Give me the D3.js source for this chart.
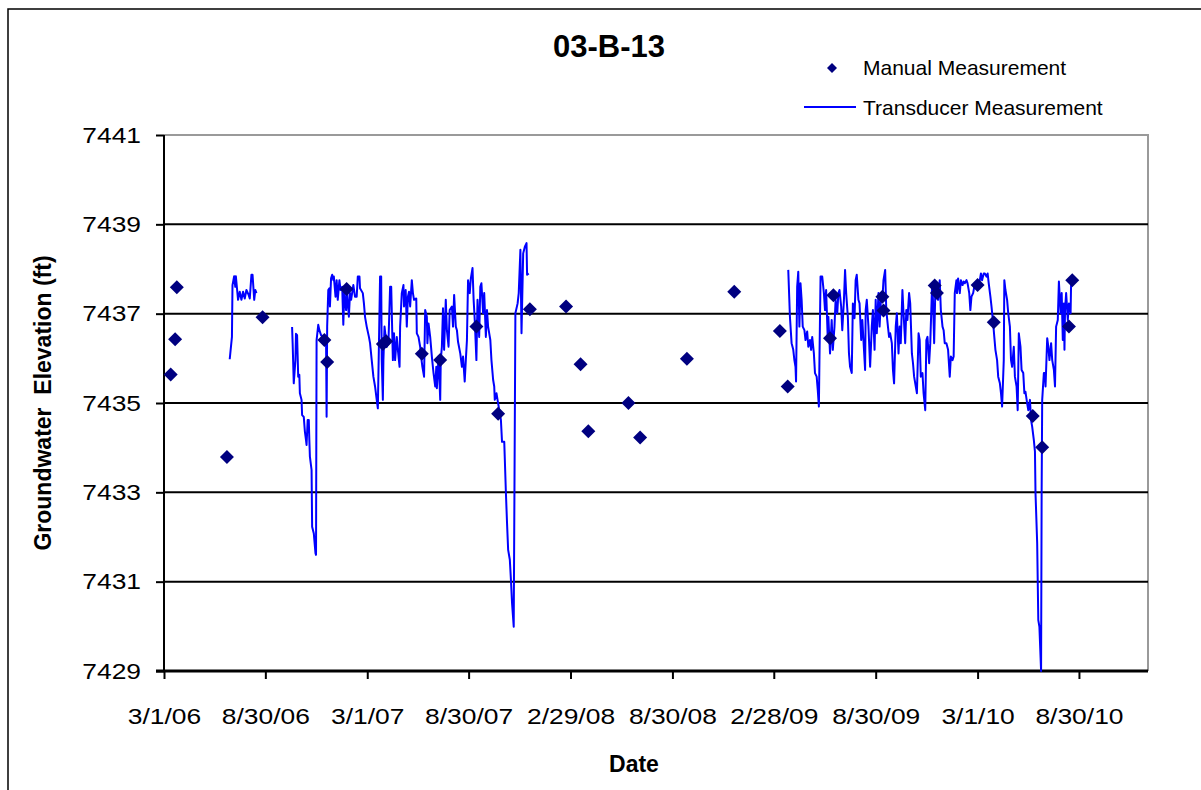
<!DOCTYPE html>
<meta charset="utf-8">
<style>
    body { margin: 0; background: #fff; }
    text { font-family: "Liberation Sans", Arial, sans-serif; fill: #000; }
    .axis .domain { display: none; }
</style>
<svg width="1201" height="790"></svg>
<script src="https://cdnjs.cloudflare.com/ajax/libs/d3/7.8.5/d3.min.js"></script>
<script>
    // manual measurements (diamonds)
    var manualDates = ["2006-03-13", "2006-03-21", "2006-03-24", "2006-06-22", "2006-08-25", "2006-12-14",
        "2006-12-19", "2007-01-23", "2007-03-29", "2007-04-04", "2007-06-07", "2007-07-10", "2007-09-13",
        "2007-10-22", "2007-12-18", "2008-02-21", "2008-03-18", "2008-04-01", "2008-06-12", "2008-07-03",
        "2008-09-25", "2008-12-19", "2009-03-11", "2009-03-25", "2009-06-09", "2009-06-15", "2009-09-11",
        "2009-09-13", "2009-12-14", "2009-12-18", "2010-03-01", "2010-03-30", "2010-06-08", "2010-06-25",
        "2010-08-12", "2010-08-18"];
    var manualValues = [7435.64, 7436.43, 7437.59, 7433.79, 7436.92, 7436.41,
        7435.92, 7437.55, 7436.32, 7436.38, 7436.10, 7435.96, 7436.71,
        7434.76, 7437.10, 7437.16, 7435.87, 7434.37, 7435.00, 7434.23,
        7435.99, 7437.49, 7436.61, 7435.37, 7436.45, 7437.41, 7437.38,
        7437.07, 7437.63, 7437.46, 7437.64, 7436.81, 7434.71, 7434.01,
        7436.71, 7437.75];

    // transducer record (null = no logger data)
    var transDates = [
        "2006-06-27", "2006-07-01", "2006-07-02", "2006-07-05", "2006-07-07", "2006-07-08", "2006-07-12",
        "2006-07-15", "2006-07-18", "2006-07-21", "2006-07-24", "2006-07-27", "2006-07-31", "2006-08-02",
        "2006-08-05", "2006-08-07", "2006-08-10", "2006-08-12", "2006-08-14", "2006-09-15",
        "2006-10-17", "2006-10-18", "2006-10-20", "2006-10-23", "2006-10-24", "2006-10-26", "2006-10-28",
        "2006-10-30", "2006-10-31", "2006-11-03", "2006-11-04", "2006-11-07", "2006-11-09", "2006-11-11",
        "2006-11-12", "2006-11-14", "2006-11-16", "2006-11-17", "2006-11-18", "2006-11-21", "2006-11-22",
        "2006-11-25", "2006-11-28", "2006-11-29", "2006-11-30", "2006-12-03", "2006-12-05", "2006-12-08",
        "2006-12-12", "2006-12-17", "2006-12-18", "2006-12-19", "2006-12-21", "2006-12-23", "2006-12-24",
        "2006-12-26", "2006-12-28", "2006-12-30", "2006-12-31", "2007-01-03", "2007-01-05", "2007-01-07",
        "2007-01-10", "2007-01-12", "2007-01-15", "2007-01-17", "2007-01-19", "2007-01-22", "2007-01-24",
        "2007-01-27", "2007-01-29", "2007-01-31", "2007-02-04", "2007-02-07", "2007-02-10", "2007-02-12",
        "2007-02-15", "2007-02-16", "2007-02-21", "2007-02-23", "2007-02-25", "2007-02-28", "2007-03-04",
        "2007-03-06", "2007-03-09", "2007-03-12", "2007-03-15", "2007-03-18", "2007-03-20", "2007-03-22",
        "2007-03-24", "2007-03-26", "2007-03-27", "2007-03-29", "2007-03-30", "2007-04-01", "2007-04-05",
        "2007-04-08", "2007-04-11", "2007-04-13", "2007-04-16", "2007-04-18", "2007-04-20", "2007-04-23",
        "2007-04-25", "2007-04-28", "2007-04-29", "2007-05-02", "2007-05-05", "2007-05-06", "2007-05-09",
        "2007-05-11", "2007-05-13", "2007-05-15", "2007-05-17", "2007-05-20", "2007-05-22", "2007-05-24",
        "2007-05-28", "2007-05-29", "2007-06-01", "2007-06-04", "2007-06-05", "2007-06-08", "2007-06-11",
        "2007-06-13", "2007-06-16", "2007-06-17", "2007-06-19", "2007-06-22", "2007-06-25", "2007-06-28",
        "2007-07-01", "2007-07-03", "2007-07-04", "2007-07-07", "2007-07-10", "2007-07-11", "2007-07-13",
        "2007-07-15", "2007-07-17", "2007-07-20", "2007-07-22", "2007-07-25", "2007-07-27", "2007-07-31",
        "2007-08-02", "2007-08-04", "2007-08-07", "2007-08-09", "2007-08-11", "2007-08-15", "2007-08-18",
        "2007-08-20", "2007-08-23", "2007-08-25", "2007-08-27", "2007-08-29", "2007-09-01", "2007-09-03",
        "2007-09-06", "2007-09-08", "2007-09-10", "2007-09-13", "2007-09-15", "2007-09-18", "2007-09-20",
        "2007-09-22", "2007-09-25", "2007-09-27", "2007-09-30", "2007-10-02", "2007-10-04", "2007-10-08",
        "2007-10-10", "2007-10-13", "2007-10-15", "2007-10-16", "2007-10-19", "2007-10-22", "2007-10-27",
        "2007-10-29", "2007-11-02", "2007-11-05", "2007-11-07", "2007-11-09", "2007-11-12", "2007-11-14",
        "2007-11-16", "2007-11-19", "2007-11-22", "2007-11-26", "2007-11-28", "2007-12-01", "2007-12-03",
        "2007-12-06", "2007-12-09", "2007-12-12", "2007-12-13", "2007-12-16", "2008-06-01",
        "2009-03-26", "2009-03-29", "2009-04-01", "2009-04-04", "2009-04-06", "2009-04-08", "2009-04-09",
        "2009-04-11", "2009-04-13", "2009-04-15", "2009-04-17", "2009-04-19", "2009-04-21", "2009-04-24",
        "2009-04-26", "2009-04-29", "2009-05-01", "2009-05-04", "2009-05-06", "2009-05-08", "2009-05-11",
        "2009-05-13", "2009-05-16", "2009-05-18", "2009-05-20", "2009-05-21", "2009-05-23", "2009-05-26",
        "2009-05-29", "2009-05-31", "2009-06-02", "2009-06-05", "2009-06-06", "2009-06-09", "2009-06-12",
        "2009-06-14", "2009-06-17", "2009-06-19", "2009-06-22", "2009-06-24", "2009-06-26", "2009-06-29",
        "2009-07-01", "2009-07-04", "2009-07-06", "2009-07-08", "2009-07-11", "2009-07-13", "2009-07-15",
        "2009-07-18", "2009-07-20", "2009-07-23", "2009-07-25", "2009-07-27", "2009-07-30", "2009-08-01",
        "2009-08-04", "2009-08-06", "2009-08-08", "2009-08-11", "2009-08-12", "2009-08-14", "2009-08-17",
        "2009-08-20", "2009-08-23", "2009-08-25", "2009-08-28", "2009-08-30", "2009-09-01", "2009-09-04",
        "2009-09-06", "2009-09-09", "2009-09-11", "2009-09-13", "2009-09-16", "2009-09-18", "2009-09-21",
        "2009-09-23", "2009-09-25", "2009-09-28", "2009-09-30", "2009-10-02", "2009-10-05", "2009-10-07",
        "2009-10-10", "2009-10-12", "2009-10-14", "2009-10-17", "2009-10-19", "2009-10-22", "2009-10-24",
        "2009-10-26", "2009-10-29", "2009-10-31", "2009-11-03", "2009-11-05", "2009-11-07", "2009-11-10",
        "2009-11-12", "2009-11-15", "2009-11-17", "2009-11-19", "2009-11-22", "2009-11-24", "2009-11-27",
        "2009-11-29", "2009-12-01", "2009-12-04", "2009-12-06", "2009-12-09", "2009-12-10", "2009-12-13",
        "2009-12-15", "2009-12-18", "2009-12-20", "2009-12-23", "2009-12-25", "2009-12-28", "2009-12-30",
        "2010-01-01", "2010-01-04", "2010-01-07", "2010-01-10", "2010-01-12", "2010-01-15", "2010-01-17",
        "2010-01-19", "2010-01-22", "2010-01-23", "2010-01-25", "2010-01-28", "2010-01-30", "2010-02-02",
        "2010-02-04", "2010-02-06", "2010-02-09", "2010-02-11", "2010-02-14", "2010-02-16", "2010-02-18",
        "2010-02-21", "2010-02-23", "2010-02-27", "2010-03-02", "2010-03-05", "2010-03-07", "2010-03-09",
        "2010-03-12", "2010-03-14", "2010-03-17", "2010-03-19", "2010-03-21", "2010-03-24", "2010-03-26",
        "2010-03-29", "2010-03-31", "2010-04-02", "2010-04-05", "2010-04-07", "2010-04-10", "2010-04-12",
        "2010-04-14", "2010-04-17", "2010-04-18", "2010-04-20", "2010-04-23", "2010-04-25", "2010-04-28",
        "2010-04-30", "2010-05-02", "2010-05-05", "2010-05-07", "2010-05-10", "2010-05-12", "2010-05-14",
        "2010-05-17", "2010-05-19", "2010-05-22", "2010-05-24", "2010-05-26", "2010-05-29", "2010-05-31",
        "2010-06-03", "2010-06-05", "2010-06-07", "2010-06-10", "2010-06-12", "2010-06-13", "2010-06-16",
        "2010-06-18", "2010-06-20", "2010-06-23", "2010-06-24", "2010-06-25", "2010-06-28", "2010-06-30",
        "2010-07-01", "2010-07-04", "2010-07-06", "2010-07-08", "2010-07-11", "2010-07-13", "2010-07-16",
        "2010-07-18", "2010-07-20", "2010-07-23", "2010-07-25", "2010-07-28", "2010-07-30", "2010-08-01",
        "2010-08-03", "2010-08-04", "2010-08-05", "2010-08-07", "2010-08-10", "2010-08-12", "2010-08-15",
        "2010-08-16"];
    var transValues = [
        7435.98, 7436.48, 7437.64, 7437.84, 7437.60, 7437.84, 7437.31,
        7437.49, 7437.31, 7437.49, 7437.34, 7437.53, 7437.42, 7437.34,
        7437.87, 7437.87, 7437.31, 7437.53, 7437.46, null,
        7436.70, 7436.34, 7435.44, 7435.96, 7436.55, 7436.52, 7435.59,
        7435.63, 7435.22, 7435.07, 7434.73, 7434.69, 7434.36, 7434.17,
        7434.06, 7434.62, 7434.62, 7434.17, 7433.80, 7433.50, 7432.23,
        7432.08, 7431.64, 7431.60, 7436.41, 7436.75, 7436.63, 7436.52,
        7436.48, 7436.41, 7434.69, 7436.71, 7437.53, 7437.57, 7437.16,
        7437.79, 7437.87, 7437.75, 7437.83, 7437.38, 7437.75, 7437.31,
        7437.75, 7437.53, 7437.60, 7436.75, 7437.53, 7437.08, 7437.46,
        7436.93, 7437.46, 7437.31, 7437.64, 7437.38, 7437.38, 7437.83,
        7437.83, 7437.57, 7437.46, 7437.23, 7436.93, 7436.71, 7436.48,
        7436.34, 7435.96, 7435.59, 7435.37, 7435.07, 7434.88, 7436.34,
        7437.83, 7437.83, 7435.96, 7435.07, 7435.96, 7436.71, 7436.26,
        7436.34, 7437.60, 7437.60, 7435.96, 7436.56, 7435.96, 7436.48,
        7436.19, 7435.81, 7436.71, 7437.46, 7437.64, 7437.16, 7437.53,
        7436.71, 7437.38, 7437.49, 7437.16, 7437.75, 7437.46, 7437.31,
        7437.34, 7436.56, 7436.48, 7436.26, 7436.11, 7435.81, 7435.59,
        7437.08, 7436.93, 7436.34, 7436.78, 7436.48, 7436.04, 7435.67,
        7435.37, 7435.81, 7435.33, 7436.04, 7435.07, 7435.96, 7436.26,
        7437.12, 7436.19, 7437.31, 7436.63, 7436.26, 7437.08, 7437.16,
        7436.71, 7437.42, 7436.71, 7436.63, 7436.37, 7436.11, 7435.81,
        7436.04, 7435.48, 7435.96, 7436.41, 7437.75, 7437.46, 7437.79,
        7438.02, 7437.31, 7436.86, 7435.96, 7437.31, 7436.48, 7437.60,
        7437.68, 7437.01, 7437.46, 7436.48, 7437.08, 7436.71, 7436.41,
        7435.96, 7435.52, 7435.37, 7435.07, 7435.22, 7434.99, 7434.62,
        7434.13, 7434.13, 7432.98, 7432.31, 7431.71, 7431.49, 7431.04,
        7430.52, 7429.99, 7437.01, 7437.23, 7437.46, 7438.43, 7436.56,
        7438.35, 7438.50, 7438.58, 7437.87, 7437.90, null,
        7437.98, 7436.93, 7436.34, 7436.19, 7435.96, 7435.81, 7435.48,
        7437.60, 7437.94, 7436.71, 7437.68, 7437.31, 7436.71, 7436.63,
        7436.41, 7436.60, 7436.26, 7436.41, 7436.19, 7436.48, 7436.11,
        7435.67, 7435.59, 7435.29, 7434.92, 7435.96, 7437.83, 7437.83,
        7437.46, 7437.08, 7437.53, 7436.41, 7436.93, 7436.11, 7436.86,
        7436.19, 7436.71, 7437.31, 7437.01, 7437.46, 7437.53, 7437.16,
        7436.63, 7437.31, 7437.98, 7437.46, 7436.93, 7436.11, 7435.81,
        7435.67, 7437.23, 7436.90, 7437.75, 7437.87, 7437.31, 7437.23,
        7436.41, 7436.86, 7436.41, 7435.74, 7437.08, 7437.31, 7436.71,
        7435.81, 7436.71, 7437.08, 7436.19, 7437.31, 7436.56, 7437.46,
        7436.71, 7437.46, 7437.31, 7437.75, 7437.98, 7437.08, 7436.71,
        7436.48, 7436.56, 7436.34, 7435.74, 7435.44, 7436.71, 7437.01,
        7436.11, 7436.71, 7436.34, 7437.53, 7437.01, 7436.34, 7437.08,
        7436.86, 7437.46, 7437.23, 7436.11, 7435.89, 7435.59, 7435.37,
        7435.22, 7436.56, 7436.41, 7435.59, 7435.67, 7435.22, 7434.84,
        7436.41, 7436.48, 7435.89, 7436.34, 7437.53, 7437.68, 7436.34,
        7437.46, 7437.53, 7437.31, 7437.75, 7437.08, 7436.71, 7436.63,
        7436.34, 7436.34, 7436.19, 7435.59, 7436.04, 7435.96, 7436.04,
        7437.46, 7437.75, 7437.46, 7437.79, 7437.46, 7437.75, 7437.64,
        7437.72, 7437.68, 7437.75, 7437.68, 7437.46, 7437.08, 7437.38,
        7437.46, 7437.60, 7437.68, 7437.68, 7437.75, 7437.90, 7437.75,
        7437.90, 7437.90, 7437.83, 7437.90, 7437.68, 7437.38, 7437.16,
        7436.78, 7436.48, 7436.19, 7435.96, 7435.59, 7435.44, 7435.22,
        7434.92, 7435.96, 7437.75, 7437.53, 7437.31, 7437.01, 7436.71,
        7435.96, 7435.81, 7436.26, 7435.59, 7435.37, 7434.84, 7436.56,
        7436.26, 7435.74, 7435.67, 7435.22, 7435.25, 7434.99, 7434.84,
        7435.07, 7434.62, 7434.47, 7434.17, 7433.91, 7432.98, 7431.86,
        7430.14, 7429.99, 7429.00, 7432.98, 7435.07, 7435.67, 7435.67,
        7435.37, 7436.45, 7436.26, 7435.96, 7436.34, 7435.96, 7435.74,
        7435.37, 7436.71, 7436.86, 7437.72, 7437.01, 7437.46, 7436.41,
        7437.23, 7436.19, 7437.08, 7437.46, 7436.86, 7437.23, 7437.01,
        7437.75];

    var tickDates = ["2006-03-01", "2006-08-30", "2007-03-01", "2007-08-30", "2008-02-29",
        "2008-08-30", "2009-02-28", "2009-08-30", "2010-03-01", "2010-08-30"];
    var tickLabels = ["3/1/06", "8/30/06", "3/1/07", "8/30/07", "2/29/08",
        "8/30/08", "2/28/09", "8/30/09", "3/1/10", "8/30/10"];
    var yTicks = [7429, 7431, 7433, 7435, 7437, 7439, 7441];

    var parse = d3.timeParse("%Y-%m-%d");

    var svg = d3.select("svg"),
        plotLeft = 164, plotRight = 1148, plotTop = 135, plotBottom = 671;

    var x = d3.scaleTime()
        .domain([parse("2006-03-01"), parse("2011-01-01")])
        .range([plotLeft, plotRight]);
    var y = d3.scaleLinear()
        .domain([7429, 7441])
        .range([plotBottom, plotTop]);

    // stretch text a little wider, like the excel export
    function stretch(sel, k) {
        sel.each(function () {
            var w = this.getComputedTextLength();
            d3.select(this).attr("textLength", w * k).attr("lengthAdjust", "spacingAndGlyphs");
        });
    }

    // outer chart border
    svg.append("rect")
        .attr("x", 8).attr("y", 9)
        .attr("width", 1300).attr("height", 900)
        .attr("fill", "#fff").attr("stroke", "#000").attr("stroke-width", 1.5);

    // plot area frame (grey top/right)
    svg.append("path")
        .attr("d", "M" + plotLeft + "," + plotTop + "H" + plotRight + "V" + plotBottom)
        .attr("fill", "none").attr("stroke", "#9a9a9a").attr("stroke-width", 2);

    // grid lines
    svg.append("g").selectAll("line")
        .data(yTicks.filter(function (d) { return d > 7429 && d < 7441; }))
        .enter().append("line")
        .attr("x1", plotLeft).attr("x2", plotRight)
        .attr("y1", function (d) { return y(d); })
        .attr("y2", function (d) { return y(d); })
        .attr("stroke", "#000").attr("stroke-width", 2);

    // axes
    var yAxis = svg.append("g").attr("class", "axis")
        .attr("transform", "translate(" + plotLeft + ",0)")
        .call(d3.axisLeft(y).tickValues(yTicks).tickSize(8).tickPadding(15).tickFormat(d3.format("d")));
    yAxis.selectAll("line").attr("stroke", "#000").attr("stroke-width", 2);
    yAxis.selectAll("text").style("font-size", "22px").call(stretch, 1.2);

    var xAxis = svg.append("g").attr("class", "axis")
        .attr("transform", "translate(0," + plotBottom + ")")
        .call(d3.axisBottom(x).tickValues(tickDates.map(parse)).tickSize(8).tickPadding(29)
            .tickFormat(function (d, i) { return tickLabels[i]; }));
    xAxis.selectAll("line").attr("stroke", "#000").attr("stroke-width", 2);
    xAxis.selectAll("text").style("font-size", "22px").call(stretch, 1.2);

    svg.append("line")
        .attr("x1", plotLeft).attr("x2", plotLeft).attr("y1", plotTop).attr("y2", plotBottom)
        .attr("stroke", "#000").attr("stroke-width", 2);
    svg.append("line")
        .attr("x1", plotLeft - 8).attr("x2", plotRight).attr("y1", plotBottom).attr("y2", plotBottom)
        .attr("stroke", "#000").attr("stroke-width", 3);

    // transducer line
    var trans = transDates.map(function (d, i) {
        return { date: parse(d), value: transValues[i] };
    });
    var line = d3.line()
        .defined(function (d) { return d.value != null; })
        .x(function (d) { return x(d.date); })
        .y(function (d) { return y(d.value); });

    svg.append("path")
        .datum(trans)
        .attr("d", line)
        .attr("fill", "none")
        .attr("stroke", "#0000ff")
        .attr("stroke-width", 2)
        .attr("stroke-linejoin", "round");

    // manual measurements
    var diamond = d3.symbol().type(d3.symbolSquare).size(98);
    svg.append("g").selectAll("path")
        .data(manualDates.map(function (d, i) { return { date: parse(d), value: manualValues[i] }; }))
        .enter().append("path")
        .attr("d", diamond)
        .attr("transform", function (d) {
            return "translate(" + x(d.date) + "," + y(d.value) + ") rotate(45)";
        })
        .attr("fill", "#000080");

    // titles
    svg.append("text")
        .attr("x", 609).attr("y", 57)
        .attr("text-anchor", "middle")
        .style("font-size", "31px").style("font-weight", "bold")
        .text("03-B-13");

    svg.append("text")
        .attr("x", 634).attr("y", 772)
        .attr("text-anchor", "middle")
        .style("font-size", "23px").style("font-weight", "bold")
        .text("Date");

    svg.append("text")
        .attr("transform", "translate(51,403) rotate(-90)")
        .attr("text-anchor", "middle")
        .style("font-size", "23px").style("font-weight", "bold")
        .style("white-space", "pre")
        .text("Groundwater  Elevation (ft)");

    // legend
    var legend = svg.append("g");
    legend.append("path")
        .attr("d", d3.symbol().type(d3.symbolSquare).size(50))
        .attr("transform", "translate(832,68) rotate(45)")
        .attr("fill", "#000080");
    legend.append("text")
        .attr("x", 863).attr("y", 75)
        .style("font-size", "21px")
        .text("Manual Measurement");
    legend.append("line")
        .attr("x1", 804).attr("x2", 856).attr("y1", 107).attr("y2", 107)
        .attr("stroke", "#0000ff").attr("stroke-width", 2);
    legend.append("text")
        .attr("x", 863).attr("y", 115)
        .style("font-size", "21px")
        .text("Transducer Measurement");
</script>
